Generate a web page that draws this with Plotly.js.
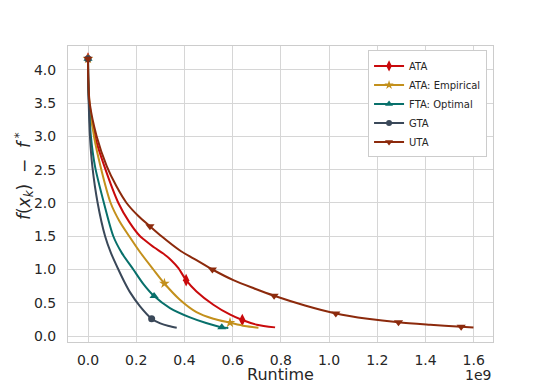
<!DOCTYPE html>
<html>
<head>
<meta charset="utf-8">
<script src="https://cdn.plot.ly/plotly-3.0.1.min.js"></script>
<style>
  body { margin: 0; background: #ffffff; }
  #plot { width: 548px; height: 384px; }
</style>
</head>
<body>
<div id="plot"></div>
<script>
// runtime values are in units of 1e9
let ataX = [0, 0.001, 0.005, 0.029, 0.068, 0.126, 0.17, 0.216, 0.236, 0.275, 0.312, 0.345, 0.375, 0.407, 0.45, 0.52, 0.59, 0.64, 0.70, 0.776];
let ataY = [4.17, 3.85, 3.5, 3.0, 2.55, 2.0, 1.72, 1.5, 1.44, 1.33, 1.24, 1.14, 1.02, 0.84, 0.67, 0.47, 0.32, 0.24, 0.17, 0.13];
let ataMarks = [0, 13, 17];

let empX = [0, 0.001, 0.006, 0.025, 0.052, 0.094, 0.13, 0.171, 0.22, 0.271, 0.317, 0.38, 0.45, 0.52, 0.589, 0.65, 0.707];
let empY = [4.17, 3.85, 3.5, 3.0, 2.55, 2.0, 1.73, 1.5, 1.24, 1.0, 0.79, 0.55, 0.36, 0.26, 0.2, 0.15, 0.125];
let empMarks = [0, 10, 14];

let ftaX = [0, 0.001, 0.004, 0.012, 0.029, 0.066, 0.105, 0.14, 0.188, 0.23, 0.274, 0.34, 0.423, 0.49, 0.555, 0.582];
let ftaY = [4.17, 3.85, 3.5, 3.0, 2.55, 2.0, 1.5, 1.25, 1.0, 0.78, 0.6, 0.42, 0.28, 0.195, 0.13, 0.12];
let ftaMarks = [0, 10, 14];

let gtaX = [0, 0.001, 0.003, 0.008, 0.018, 0.04, 0.071, 0.095, 0.126, 0.15, 0.174, 0.215, 0.264, 0.30, 0.335, 0.368];
let gtaY = [4.17, 3.85, 3.5, 3.0, 2.55, 2.0, 1.5, 1.25, 1.0, 0.82, 0.66, 0.45, 0.26, 0.19, 0.15, 0.125];
let gtaMarks = [0, 12];

let utaX = [0, 0.001, 0.007, 0.036, 0.078, 0.118, 0.16, 0.21, 0.257, 0.305, 0.38, 0.45, 0.516, 0.603, 0.69, 0.772, 0.90, 1.028, 1.16, 1.288, 1.42, 1.548, 1.599];
let utaY = [4.17, 3.85, 3.5, 3.0, 2.55, 2.25, 2.0, 1.8, 1.65, 1.5, 1.29, 1.14, 1.0, 0.84, 0.715, 0.606, 0.46, 0.34, 0.26, 0.206, 0.17, 0.14, 0.128];
let utaMarks = [0, 8, 12, 15, 17, 19, 21];

let names = ["ATA", "ATA: Empirical", "FTA: Optimal", "GTA", "UTA"];
let colors = ["#c90a0c", "#c3901c", "#08706b", "#3a4859", "#8c2a0c"];
let symbols = ["diamond-tall", "star", "triangle-up", "circle", "triangle-down"];
let sizes = [9, 8, 8, 7, 8];

let xs = [ataX, empX, ftaX, gtaX, utaX];
let ys = [ataY, empY, ftaY, gtaY, utaY];
let marks = [ataMarks, empMarks, ftaMarks, gtaMarks, utaMarks];

let pdata = [];

for (let i = 0; i < names.length; i++) {
    // the curve
    pdata.push({
        x: xs[i],
        y: ys[i],
        mode: "lines",
        line: {color: colors[i], width: 2, shape: "spline", smoothing: 0.8},
        showlegend: false,
        hoverinfo: "skip"
    });
    // markers on some of the points
    pdata.push({
        x: marks[i].map(k => xs[i][k]),
        y: marks[i].map(k => ys[i][k]),
        mode: "markers",
        marker: {color: colors[i], symbol: symbols[i], size: sizes[i]},
        showlegend: false
    });
}

// legend entries
for (let i = 0; i < names.length; i++) {
    pdata.push({
        x: [null],
        y: [null],
        name: names[i],
        mode: "lines+markers",
        line: {color: colors[i], width: 2},
        marker: {color: colors[i], symbol: symbols[i], size: sizes[i] - 1}
    });
}

let tickFont = {family: "DejaVu Sans", size: 14, color: "#262626"};

var layout = {
    width: 548,
    height: 384,
    margin: {l: 68, r: 55, t: 46, b: 42},
    paper_bgcolor: "#ffffff",
    plot_bgcolor: "#ffffff",
    font: {family: "DejaVu Sans", color: "#262626"},
    xaxis: {
        range: [-0.083, 1.68],
        tickvals: [0, 0.2, 0.4, 0.6, 0.8, 1.0, 1.2, 1.4, 1.6],
        tickformat: ".1f",
        tickfont: tickFont,
        ticks: "",
        ticklabelstandoff: 5,
        showgrid: true,
        gridcolor: "#d6d6d6",
        gridwidth: 1,
        zeroline: false,
        showline: true,
        mirror: true,
        linecolor: "#cccccc",
        linewidth: 1,
        title: {text: "Runtime", font: {family: "DejaVu Sans", size: 16, color: "#262626"}, standoff: 7}
    },
    yaxis: {
        range: [-0.09, 4.36],
        tickvals: [0, 0.5, 1.0, 1.5, 2.0, 2.5, 3.0, 3.5, 4.0],
        tickformat: ".1f",
        tickfont: tickFont,
        ticks: "",
        ticklabelstandoff: 8,
        showgrid: true,
        gridcolor: "#d6d6d6",
        gridwidth: 1,
        zeroline: false,
        showline: true,
        mirror: true,
        linecolor: "#cccccc",
        linewidth: 1
    },
    legend: {
        x: 0.986,
        y: 0.985,
        xanchor: "right",
        yanchor: "top",
        bgcolor: "#ffffff",
        bordercolor: "#cccccc",
        borderwidth: 1,
        itemwidth: 30,
        font: {family: "DejaVu Sans", size: 10, color: "#262626"}
    },
    annotations: [
        {
            text: "<i>f</i>(<i>x</i><sub><i>k</i></sub>)  −  <i>f</i><sup> *</sup>",
            xref: "paper", yref: "paper",
            x: -0.104, y: 0.56,
            xanchor: "center", yanchor: "middle",
            textangle: -90,
            showarrow: false,
            font: {family: "DejaVu Sans", size: 17, color: "#262626"}
        },
        {
            text: "1e9",
            xref: "paper", yref: "paper",
            x: 1.0, y: -0.11,
            xanchor: "right", yanchor: "middle",
            showarrow: false,
            font: {family: "DejaVu Sans", size: 14, color: "#262626"}
        }
    ]
};

Plotly.newPlot("plot", pdata, layout, {displayModeBar: false});
</script>
</body>
</html>
